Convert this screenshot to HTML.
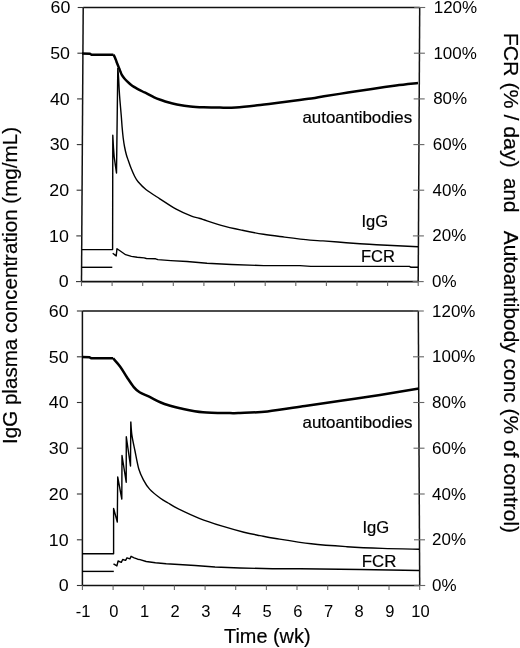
<!DOCTYPE html>
<html><head><meta charset="utf-8"><style>
html,body{margin:0;padding:0;background:#fff;width:520px;height:648px;overflow:hidden;}
svg{display:block;font-family:"Liberation Sans", sans-serif;will-change:transform;}
</style></head><body>
<svg width="520" height="648" viewBox="0 0 520 648"><rect width="520" height="648" fill="#fff"/><path d="M83.20,7.50 L419.70,7.50" fill="none" stroke="#111" stroke-width="1.5"/><path d="M83.20,7.50 L81.50,281.60" fill="none" stroke="#111" stroke-width="1.5"/><path d="M419.70,7.50 L418.20,281.60" fill="none" stroke="#111" stroke-width="1.5"/><path d="M81.50,281.60 L418.20,281.60" fill="none" stroke="#111" stroke-width="1.6"/><line x1="76.0" y1="281.6" x2="81.5" y2="281.6" stroke="#333" stroke-width="1.1"/><line x1="412.7" y1="281.6" x2="423.7" y2="281.6" stroke="#666" stroke-width="1.1"/><line x1="76.3" y1="235.9" x2="81.8" y2="235.9" stroke="#333" stroke-width="1.1"/><line x1="412.9" y1="235.9" x2="423.9" y2="235.9" stroke="#666" stroke-width="1.1"/><line x1="76.6" y1="190.2" x2="82.1" y2="190.2" stroke="#333" stroke-width="1.1"/><line x1="413.2" y1="190.2" x2="424.2" y2="190.2" stroke="#666" stroke-width="1.1"/><line x1="76.8" y1="144.6" x2="82.3" y2="144.6" stroke="#333" stroke-width="1.1"/><line x1="413.4" y1="144.6" x2="424.4" y2="144.6" stroke="#666" stroke-width="1.1"/><line x1="77.1" y1="98.9" x2="82.6" y2="98.9" stroke="#333" stroke-width="1.1"/><line x1="413.7" y1="98.9" x2="424.7" y2="98.9" stroke="#666" stroke-width="1.1"/><line x1="77.4" y1="53.2" x2="82.9" y2="53.2" stroke="#333" stroke-width="1.1"/><line x1="413.9" y1="53.2" x2="424.9" y2="53.2" stroke="#666" stroke-width="1.1"/><line x1="77.7" y1="7.5" x2="83.2" y2="7.5" stroke="#333" stroke-width="1.1"/><line x1="414.2" y1="7.5" x2="425.2" y2="7.5" stroke="#666" stroke-width="1.1"/><line x1="81.5" y1="281.6" x2="81.5" y2="286.1" stroke="#666" stroke-width="1.1"/><line x1="112.1" y1="281.6" x2="112.1" y2="286.1" stroke="#666" stroke-width="1.1"/><line x1="142.7" y1="281.6" x2="142.7" y2="286.1" stroke="#666" stroke-width="1.1"/><line x1="173.3" y1="281.6" x2="173.3" y2="286.1" stroke="#666" stroke-width="1.1"/><line x1="203.9" y1="281.6" x2="203.9" y2="286.1" stroke="#666" stroke-width="1.1"/><line x1="234.5" y1="281.6" x2="234.5" y2="286.1" stroke="#666" stroke-width="1.1"/><line x1="265.2" y1="281.6" x2="265.2" y2="286.1" stroke="#666" stroke-width="1.1"/><line x1="295.8" y1="281.6" x2="295.8" y2="286.1" stroke="#666" stroke-width="1.1"/><line x1="326.4" y1="281.6" x2="326.4" y2="286.1" stroke="#666" stroke-width="1.1"/><line x1="357.0" y1="281.6" x2="357.0" y2="286.1" stroke="#666" stroke-width="1.1"/><line x1="387.6" y1="281.6" x2="387.6" y2="286.1" stroke="#666" stroke-width="1.1"/><line x1="418.2" y1="281.6" x2="418.2" y2="286.1" stroke="#666" stroke-width="1.1"/><path d="M82.40,311.00 L418.30,311.00" fill="none" stroke="#111" stroke-width="1.5"/><path d="M82.40,311.00 L82.40,585.50" fill="none" stroke="#111" stroke-width="1.5"/><path d="M418.30,311.00 L419.70,585.50" fill="none" stroke="#111" stroke-width="1.5"/><path d="M82.40,585.50 L419.70,585.50" fill="none" stroke="#111" stroke-width="1.6"/><line x1="76.9" y1="585.5" x2="82.4" y2="585.5" stroke="#333" stroke-width="1.1"/><line x1="414.2" y1="585.5" x2="425.2" y2="585.5" stroke="#666" stroke-width="1.1"/><line x1="76.9" y1="539.8" x2="82.4" y2="539.8" stroke="#333" stroke-width="1.1"/><line x1="414.0" y1="539.8" x2="425.0" y2="539.8" stroke="#666" stroke-width="1.1"/><line x1="76.9" y1="494.0" x2="82.4" y2="494.0" stroke="#333" stroke-width="1.1"/><line x1="413.7" y1="494.0" x2="424.7" y2="494.0" stroke="#666" stroke-width="1.1"/><line x1="76.9" y1="448.2" x2="82.4" y2="448.2" stroke="#333" stroke-width="1.1"/><line x1="413.5" y1="448.2" x2="424.5" y2="448.2" stroke="#666" stroke-width="1.1"/><line x1="76.9" y1="402.5" x2="82.4" y2="402.5" stroke="#333" stroke-width="1.1"/><line x1="413.3" y1="402.5" x2="424.3" y2="402.5" stroke="#666" stroke-width="1.1"/><line x1="76.9" y1="356.8" x2="82.4" y2="356.8" stroke="#333" stroke-width="1.1"/><line x1="413.0" y1="356.8" x2="424.0" y2="356.8" stroke="#666" stroke-width="1.1"/><line x1="76.9" y1="311.0" x2="82.4" y2="311.0" stroke="#333" stroke-width="1.1"/><line x1="412.8" y1="311.0" x2="423.8" y2="311.0" stroke="#666" stroke-width="1.1"/><line x1="82.4" y1="585.5" x2="82.4" y2="590.0" stroke="#666" stroke-width="1.1"/><line x1="113.1" y1="585.5" x2="113.1" y2="590.0" stroke="#666" stroke-width="1.1"/><line x1="143.7" y1="585.5" x2="143.7" y2="590.0" stroke="#666" stroke-width="1.1"/><line x1="174.4" y1="585.5" x2="174.4" y2="590.0" stroke="#666" stroke-width="1.1"/><line x1="205.1" y1="585.5" x2="205.1" y2="590.0" stroke="#666" stroke-width="1.1"/><line x1="235.7" y1="585.5" x2="235.7" y2="590.0" stroke="#666" stroke-width="1.1"/><line x1="266.4" y1="585.5" x2="266.4" y2="590.0" stroke="#666" stroke-width="1.1"/><line x1="297.0" y1="585.5" x2="297.0" y2="590.0" stroke="#666" stroke-width="1.1"/><line x1="327.7" y1="585.5" x2="327.7" y2="590.0" stroke="#666" stroke-width="1.1"/><line x1="358.4" y1="585.5" x2="358.4" y2="590.0" stroke="#666" stroke-width="1.1"/><line x1="389.0" y1="585.5" x2="389.0" y2="590.0" stroke="#666" stroke-width="1.1"/><line x1="419.7" y1="585.5" x2="419.7" y2="590.0" stroke="#666" stroke-width="1.1"/><path d="M82.00,53.60 L90.00,53.70 L91.50,54.70 L113.40,54.70 M113.40,54.70 C113.65,55.15 114.40,56.28 114.90,57.40 C115.40,58.52 115.90,60.08 116.40,61.40 C116.90,62.72 117.43,64.12 117.90,65.30 C118.37,66.48 118.78,67.45 119.20,68.50 C119.62,69.55 119.98,70.58 120.40,71.60 C120.82,72.62 121.07,73.48 121.70,74.60 C122.33,75.72 123.28,77.17 124.20,78.30 C125.12,79.43 126.18,80.42 127.20,81.40 C128.22,82.38 129.17,83.28 130.30,84.20 C131.43,85.12 132.67,86.05 134.00,86.90 C135.33,87.75 136.87,88.53 138.30,89.30 C139.73,90.07 141.07,90.75 142.60,91.50 C144.13,92.25 145.57,92.83 147.50,93.80 C149.43,94.77 151.93,96.27 154.20,97.30 C156.47,98.33 158.80,99.17 161.10,100.00 C163.40,100.83 165.37,101.57 168.00,102.30 C170.63,103.03 173.17,103.70 176.90,104.40 C180.63,105.10 185.97,106.02 190.40,106.50 C194.83,106.98 198.57,107.12 203.50,107.30 C208.43,107.48 214.62,107.58 220.00,107.60 C225.38,107.62 229.58,107.78 235.80,107.40 C242.02,107.02 249.23,106.22 257.30,105.30 C265.37,104.38 275.22,103.03 284.20,101.90 C293.18,100.77 304.57,99.43 311.20,98.50 C317.83,97.57 317.87,97.28 324.00,96.30 C330.13,95.32 340.00,93.83 348.00,92.60 C356.00,91.37 364.00,90.07 372.00,88.90 C380.00,87.73 388.33,86.57 396.00,85.60 C403.67,84.63 414.33,83.52 418.00,83.10" fill="none" stroke="#000" stroke-linejoin="round" stroke-width="2.5"/><path d="M82.00,356.90 L89.60,357.30 L91.50,358.30 L113.10,358.30 M113.10,358.30 C114.32,359.73 118.07,363.70 120.40,366.90 C122.73,370.10 124.87,374.13 127.10,377.50 C129.33,380.87 131.72,384.63 133.80,387.10 C135.88,389.57 137.03,390.70 139.60,392.30 C142.17,393.90 145.67,395.00 149.20,396.70 C152.73,398.40 157.27,400.98 160.80,402.50 C164.33,404.02 167.20,404.83 170.40,405.80 C173.60,406.77 174.57,407.22 180.00,408.30 C185.43,409.38 194.67,411.50 203.00,412.30 C211.33,413.10 223.83,412.98 230.00,413.10 C236.17,413.22 233.75,413.28 240.00,413.00 C246.25,412.72 256.67,412.57 267.50,411.40 C278.33,410.23 292.50,407.82 305.00,406.00 C317.50,404.18 330.00,402.35 342.50,400.50 C355.00,398.65 367.25,396.92 380.00,394.90 C392.75,392.88 412.50,389.48 419.00,388.40" fill="none" stroke="#000" stroke-linejoin="round" stroke-width="2.5"/><path d="M82.00,249.60 L112.60,249.60 L112.80,135.20 L113.50,148.00 L114.20,157.00 L115.30,165.00 L116.50,173.00 L117.80,68.00 M117.80,68.00 C117.93,69.67 118.37,74.33 118.60,78.00 C118.83,81.67 118.98,86.33 119.20,90.00 C119.42,93.67 119.57,95.83 119.90,100.00 C120.23,104.17 120.83,110.50 121.20,115.00 C121.57,119.50 121.77,123.17 122.10,127.00 C122.43,130.83 122.78,134.67 123.20,138.00 C123.62,141.33 124.08,144.25 124.60,147.00 C125.12,149.75 125.68,152.25 126.30,154.50 C126.92,156.75 127.52,158.25 128.30,160.50 C129.08,162.75 129.95,165.38 131.00,168.00 C132.05,170.62 133.42,173.90 134.60,176.20 C135.78,178.50 136.22,179.58 138.10,181.80 C139.98,184.02 142.28,186.67 145.90,189.50 C149.52,192.33 154.75,195.52 159.80,198.80 C164.85,202.08 170.92,206.30 176.20,209.20 C181.48,212.10 187.53,214.65 191.50,216.20 C195.47,217.75 195.05,216.97 200.00,218.50 C204.95,220.03 214.15,223.43 221.20,225.40 C228.25,227.37 235.25,228.82 242.30,230.30 C249.35,231.78 256.45,233.17 263.50,234.30 C270.55,235.43 276.85,236.13 284.60,237.10 C292.35,238.07 303.60,239.47 310.00,240.10 C316.40,240.73 316.97,240.47 323.00,240.90 C329.03,241.33 338.50,242.13 346.20,242.70 C353.90,243.27 361.52,243.83 369.20,244.30 C376.88,244.77 384.17,245.10 392.30,245.50 C400.43,245.90 413.72,246.50 418.00,246.70" fill="none" stroke="#000" stroke-linejoin="round" stroke-width="1.4"/><path d="M82.00,553.80 L113.60,553.80 L113.60,508.40 L117.30,522.00 L117.70,477.00 L121.80,499.00 L122.00,455.50 L126.20,482.20 L126.30,436.80 L130.50,466.00 L130.80,421.50 M130.80,421.50 C130.98,423.77 131.22,430.27 131.90,435.10 C132.58,439.93 133.75,444.85 134.90,450.50 C136.05,456.15 137.38,464.12 138.80,469.00 C140.22,473.88 141.60,476.45 143.40,479.80 C145.20,483.15 146.77,486.02 149.60,489.10 C152.43,492.18 157.32,495.98 160.40,498.30 C163.48,500.62 165.27,501.32 168.10,503.00 C170.93,504.68 172.22,505.85 177.40,508.40 C182.58,510.95 191.72,515.33 199.20,518.30 C206.68,521.27 214.85,523.88 222.30,526.20 C229.75,528.52 237.62,530.63 243.90,532.20 C250.18,533.77 254.72,534.55 260.00,535.60 C265.28,536.65 267.07,537.13 275.60,538.50 C284.13,539.87 299.33,542.43 311.20,543.80 C323.07,545.17 334.95,545.93 346.80,546.70 C358.65,547.47 370.27,547.98 382.30,548.40 C394.33,548.82 412.88,549.07 419.00,549.20" fill="none" stroke="#000" stroke-linejoin="round" stroke-width="1.4"/><path d="M82.00,267.30 L112.30,267.30" fill="none" stroke="#000" stroke-linejoin="round" stroke-width="1.4"/><path d="M112.70,253.30 L116.20,255.90 L117.00,248.70 L121.00,251.50 L125.60,254.70 L131.40,256.40 L137.20,257.30 L144.10,257.90 L146.40,258.50 L155.60,258.80 L157.90,259.60 L170.80,260.60 L187.00,261.50 L207.00,263.20 L231.40,264.50 L263.70,265.60 L300.00,265.60 L310.80,266.40 L409.40,266.40 L411.00,267.30 L418.00,267.30" fill="none" stroke="#000" stroke-linejoin="round" stroke-width="1.4"/><path d="M82.00,571.40 L113.80,571.40" fill="none" stroke="#000" stroke-linejoin="round" stroke-width="1.4"/><path d="M113.50,563.80 L116.90,565.90 L118.10,561.00 L121.30,562.40 L122.70,559.50 L125.60,560.40 L127.00,557.80 L129.90,558.90 L131.10,556.30 L134.20,557.80 L137.70,559.20 L140.00,559.60 L146.20,561.50 L155.40,562.80 L166.20,563.80 L178.75,564.50 L195.00,565.50 L215.00,567.00 L240.00,568.00 L272.50,568.75 L300.00,568.75 L360.00,569.50 L419.00,570.50" fill="none" stroke="#000" stroke-linejoin="round" stroke-width="1.4"/><g font-family='"Liberation Sans", sans-serif' fill="#000"><text transform="translate(68.60,287.40) scale(1.08,1)" font-size="16.5" text-anchor="end">0</text><text transform="translate(432.00,287.10) scale(1.03,1)" font-size="16.5">0%</text><text transform="translate(68.88,241.72) scale(1.08,1)" font-size="16.5" text-anchor="end">10</text><text transform="translate(432.28,241.42) scale(1.03,1)" font-size="16.5">20%</text><text transform="translate(69.17,196.03) scale(1.08,1)" font-size="16.5" text-anchor="end">20</text><text transform="translate(432.57,195.73) scale(1.03,1)" font-size="16.5">40%</text><text transform="translate(69.45,150.35) scale(1.08,1)" font-size="16.5" text-anchor="end">30</text><text transform="translate(432.85,150.05) scale(1.03,1)" font-size="16.5">60%</text><text transform="translate(69.73,104.67) scale(1.08,1)" font-size="16.5" text-anchor="end">40</text><text transform="translate(433.13,104.37) scale(1.03,1)" font-size="16.5">80%</text><text transform="translate(70.02,58.98) scale(1.08,1)" font-size="16.5" text-anchor="end">50</text><text transform="translate(433.42,58.68) scale(1.03,1)" font-size="16.5">100%</text><text transform="translate(70.30,13.30) scale(1.08,1)" font-size="16.5" text-anchor="end">60</text><text transform="translate(433.70,13.00) scale(1.03,1)" font-size="16.5">120%</text><text transform="translate(68.60,591.30) scale(1.08,1)" font-size="16.5" text-anchor="end">0</text><text transform="translate(432.00,591.00) scale(1.03,1)" font-size="16.5">0%</text><text transform="translate(68.60,545.55) scale(1.08,1)" font-size="16.5" text-anchor="end">10</text><text transform="translate(432.00,545.25) scale(1.03,1)" font-size="16.5">20%</text><text transform="translate(68.60,499.80) scale(1.08,1)" font-size="16.5" text-anchor="end">20</text><text transform="translate(432.00,499.50) scale(1.03,1)" font-size="16.5">40%</text><text transform="translate(68.60,454.05) scale(1.08,1)" font-size="16.5" text-anchor="end">30</text><text transform="translate(432.00,453.75) scale(1.03,1)" font-size="16.5">60%</text><text transform="translate(68.60,408.30) scale(1.08,1)" font-size="16.5" text-anchor="end">40</text><text transform="translate(432.00,408.00) scale(1.03,1)" font-size="16.5">80%</text><text transform="translate(68.60,362.55) scale(1.08,1)" font-size="16.5" text-anchor="end">50</text><text transform="translate(432.00,362.25) scale(1.03,1)" font-size="16.5">100%</text><text transform="translate(68.60,316.80) scale(1.08,1)" font-size="16.5" text-anchor="end">60</text><text transform="translate(432.00,316.50) scale(1.03,1)" font-size="16.5">120%</text><text x="83.2" y="616.5" font-size="16.5" text-anchor="middle">-1</text><text x="113.9" y="616.5" font-size="16.5" text-anchor="middle">0</text><text x="144.5" y="616.5" font-size="16.5" text-anchor="middle">1</text><text x="175.2" y="616.5" font-size="16.5" text-anchor="middle">2</text><text x="205.9" y="616.5" font-size="16.5" text-anchor="middle">3</text><text x="236.5" y="616.5" font-size="16.5" text-anchor="middle">4</text><text x="267.2" y="616.5" font-size="16.5" text-anchor="middle">5</text><text x="297.8" y="616.5" font-size="16.5" text-anchor="middle">6</text><text x="328.5" y="616.5" font-size="16.5" text-anchor="middle">7</text><text x="359.2" y="616.5" font-size="16.5" text-anchor="middle">8</text><text x="389.8" y="616.5" font-size="16.5" text-anchor="middle">9</text><text x="420.5" y="616.5" font-size="16.5" text-anchor="middle">10</text><text x="302.5" y="122.5" font-size="16.5" text-anchor="start" textLength="109.6" lengthAdjust="spacingAndGlyphs" stroke="#000" stroke-width="0.2">autoantibodies</text><text x="302.5" y="427.5" font-size="16.5" text-anchor="start" textLength="110" lengthAdjust="spacingAndGlyphs" stroke="#000" stroke-width="0.2">autoantibodies</text><text x="361.5" y="227.3" font-size="16.5" text-anchor="start" stroke="#000" stroke-width="0.2">IgG</text><text x="362.5" y="532.8" font-size="16.5" text-anchor="start" textLength="26.8" lengthAdjust="spacingAndGlyphs" stroke="#000" stroke-width="0.2">IgG</text><text x="361" y="262.3" font-size="16.5" text-anchor="start" stroke="#000" stroke-width="0.2">FCR</text><text x="361.8" y="566.9" font-size="16.5" text-anchor="start" textLength="34.6" lengthAdjust="spacingAndGlyphs" stroke="#000" stroke-width="0.2">FCR</text><text x="267.3" y="642.8" font-size="20.8" text-anchor="middle" textLength="86.5" lengthAdjust="spacingAndGlyphs" stroke="#000" stroke-width="0.2">Time (wk)</text><text transform="translate(16.5,444) rotate(-90)" font-size="20.6" stroke="#000" stroke-width="0.2" textLength="317" lengthAdjust="spacingAndGlyphs">IgG plasma concentration (mg/mL)</text><text transform="translate(504,32.7) rotate(90)" font-size="20.6" stroke="#000" stroke-width="0.2" textLength="135" lengthAdjust="spacingAndGlyphs">FCR (% / day)</text><text transform="translate(504,178) rotate(90)" font-size="20.6" stroke="#000" stroke-width="0.2">and</text><text transform="translate(504,230.7) rotate(90)" font-size="20.6" stroke="#000" stroke-width="0.2" textLength="302.3" lengthAdjust="spacingAndGlyphs">Autoantibody conc (% of control)</text></g></svg>
</body></html>
